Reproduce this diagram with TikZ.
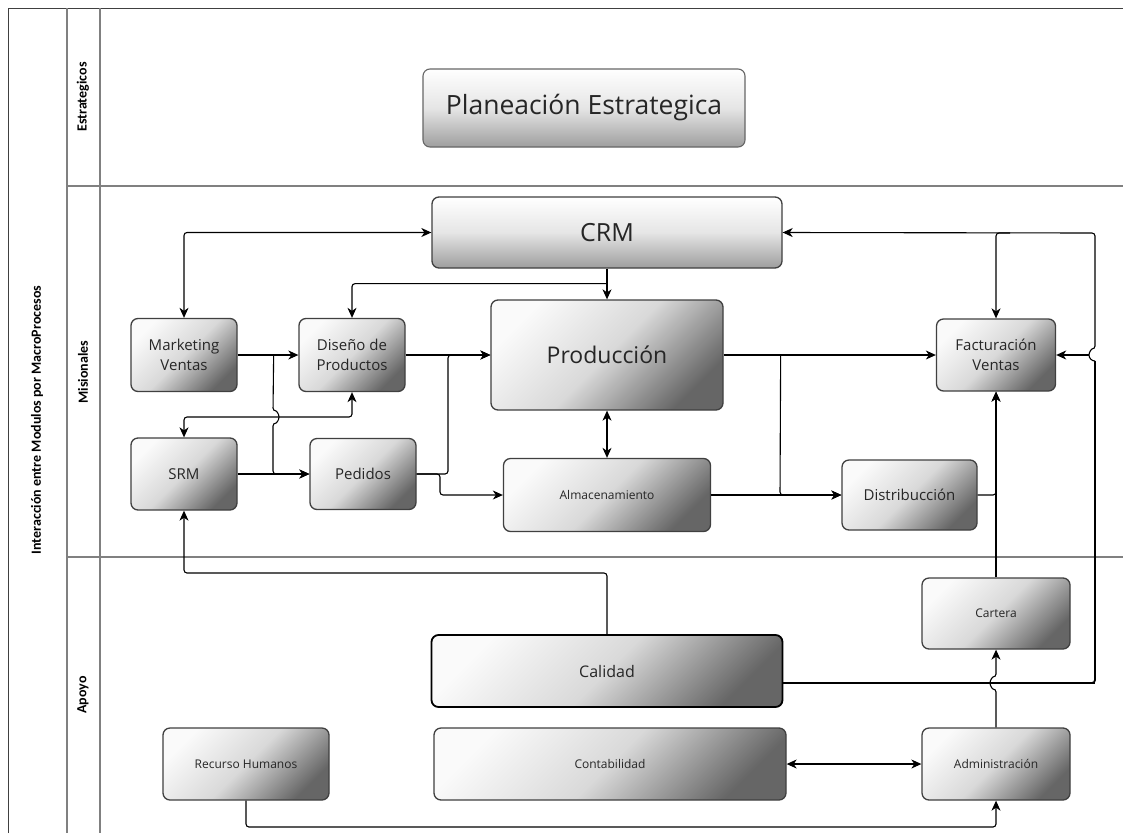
\documentclass[tikz,border=0pt]{standalone}
\usepackage{fontspec}
\setmainfont{Open Sans}
\newfontfamily\lanefont{Carlito}
\usetikzlibrary{arrows.meta}
\begin{document}
\begin{tikzpicture}[x=1pt,y=-1pt,
  box/.style={rounded corners=7pt, draw=black!75, line width=1.3pt, top color=black!2, bottom color=black!60, middle color=black!15, shading angle=45, align=center, inner sep=0pt, text=black!85},
  lightbox/.style={box, top color=white, bottom color=black!38, middle color=black!10},
  conn/.style={draw=black, line width=1.1pt, rounded corners=3pt},
  tip/.tip={Stealth[length=10pt,width=9pt,inset=3pt]},
  arr/.style={conn, -tip},
  darr/.style={conn, tip-tip},
  lane/.style={draw=black!50, line width=1.5pt},
  lanelabel/.style={rotate=90, font=\lanefont\bfseries\fontsize{14}{16}\selectfont},
  fmid/.style={font=\fontsize{15}{20}\selectfont},
  fsmall/.style={font=\fontsize{12}{15}\selectfont}
]
\useasboundingbox[fill=white] (0,0) rectangle (1123,833);

% frame
\draw[black!75, line width=1pt] (8,833) -- (8,8) -- (1123,8);
\draw[lane] (67,8) -- (67,833);
\draw[lane] (100,8) -- (100,833);
\draw[lane] (67,186) -- (1123,186);
\draw[lane] (67,557) -- (1123,557);

\node[lanelabel] (title) at (37,420) {Interacción entre Modulos por MacroProcesos};
\node[lanelabel] (l1) at (83,97) {Estrategicos};
\node[lanelabel] (l2) at (83,372) {Misionales};
\node[lanelabel] (l3) at (83,695) {Apoyo};

% boxes
\node[lightbox, font=\fontsize{26.5}{30}\selectfont, draw=black!60, line width=1.1pt, minimum width=322pt, minimum height=78pt] (plan) at (584,108) {Planeación Estrategica};
\node[lightbox, font=\fontsize{25}{28}\selectfont, minimum width=350pt, minimum height=71pt] (crm) at (607,232.5) {CRM};
\node[box, fmid, minimum width=106pt, minimum height=73pt] (mkt) at (184,355) {Marketing\\Ventas};
\node[box, fmid, minimum width=106pt, minimum height=73pt] (dis) at (352,355) {Diseño de\\Productos};
\node[box, fmid, minimum width=106pt, minimum height=72pt] (srm) at (184,474) {SRM};
\node[box, fmid, minimum width=106pt, minimum height=71pt] (ped) at (363,474) {Pedidos};
\node[box, font=\fontsize{23}{27}\selectfont, minimum width=232pt, minimum height=110pt] (prod) at (607,355) {Producción};
\node[box, fsmall, minimum width=207pt, minimum height=73pt] (alm) at (607,495) {Almacenamiento};
\node[box, fmid, minimum width=119pt, minimum height=72pt] (fac) at (996,355) {Facturación\\Ventas};
\node[box, fmid, minimum width=135pt, minimum height=70pt] (dist) at (909.5,495) {Distribucción};
\node[box, font=\fontsize{16}{20}\selectfont, draw=black, line width=1.8pt, minimum width=351pt, minimum height=72pt] (cal) at (607,671) {Calidad};
\node[box, fsmall, minimum width=148pt, minimum height=71pt] (cart) at (996,613.5) {Cartera};
\node[box, fsmall, minimum width=352pt, minimum height=72pt] (cont) at (610,764) {Contabilidad};
\node[box, fsmall, minimum width=166pt, minimum height=72pt] (rh) at (246,764) {Recurso Humanos};
\node[box, fsmall, minimum width=148pt, minimum height=72pt] (adm) at (996,764) {Administración};

% connectors
\draw[darr] (mkt.north) |- (crm.west);
\draw[arr] (crm.south) -- (prod.north);
\draw[arr] ([yshift=-15pt]crm.south) -| (dis.north);
\draw[arr] (mkt.east) -- (dis.west);
\draw[arr] ([xshift=36pt]mkt.east) -- (273,411) arc[start angle=90,end angle=-90,radius=6pt] -- (273,474) -- (ped.west);
\draw[arr] (srm.east) -- (ped.west);
\draw[darr] (dis.south) -- (352,417) -| (srm.north);
\draw[arr] (dis.east) -- (prod.west);
\draw[arr] (ped.east) -- (448,474) -- (448,355) -- (prod.west);
\draw[arr] (ped.east) -- (440,474) -- (440,495) -- (alm.west);
\draw[darr] (prod.south) -- (alm.north);
\draw[arr] (prod.east) -- (fac.west);
\draw[arr] ([xshift=57pt]prod.east) -- (780,495) -- (dist.west);
\draw[arr] (alm.east) -- (dist.west);
\draw[arr] (dist.east) -- (996,495) -- (fac.south);
\draw[arr] (cart.north) -- (fac.south);
\draw[arr] (adm.north) -- (996,689) arc[start angle=-90,end angle=-270,radius=6pt] -- (cart.south);
\draw[conn, line width=1.1pt] ([yshift=-12pt]cal.east) -- (1095,683);
\draw[conn, line width=1.8pt] (1080,683) -- (1095,683) -- (1095,361);
\draw[arr] (1095,361) arc[start angle=-90,end angle=-270,radius=6pt] -- (1095,233) -- (crm.east);
\draw[arr] (1089,355) -- (fac.east);
\draw[arr] (1010,233) -- (996,233) -- (fac.north);
\draw[arr] (cal.north) -- (607,573) -| (srm.south);
\draw[arr] (rh.south) -- (246,827) -| (adm.south);
\draw[darr] (cont.east) -- (adm.west);
\end{tikzpicture}
\end{document}
